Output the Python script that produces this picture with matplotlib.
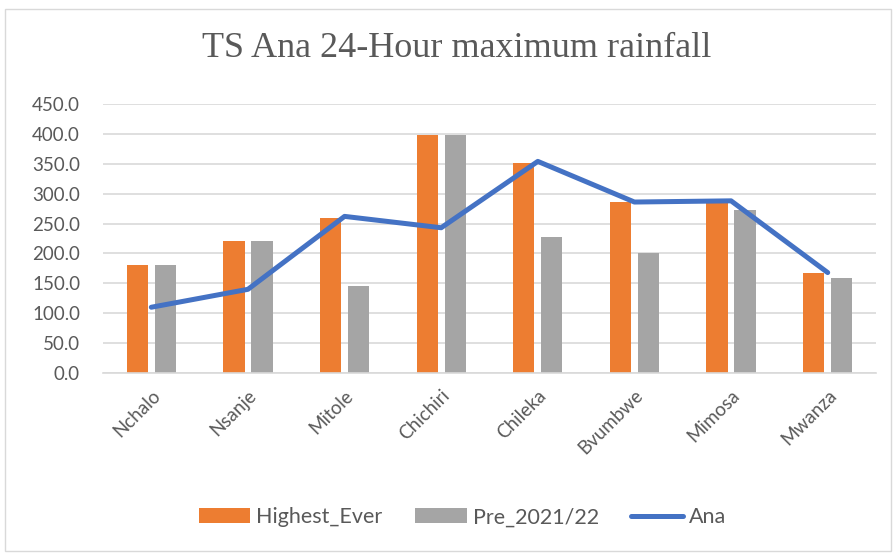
import numpy as np
import matplotlib.pyplot as plt
from matplotlib.patches import Rectangle

stations = ['Nchalo', 'Nsanje', 'Mitole', 'Chichiri', 'Chileka', 'Bvumbwe', 'Mimosa', 'Mwanza']
highest_ever = [180, 220, 260, 398, 352, 286, 284, 168]
pre_2021_22 = [180, 220, 145, 398, 227, 201, 273, 159]
ana = [110, 140, 262, 243, 354, 286, 288, 168]

txt = '#595959'
plt.rcParams['font.family'] = ['Lato', 'DejaVu Sans']

fig = plt.figure(figsize=(8.96, 5.55), dpi=100)
fig.patches.append(Rectangle((0.006, 0.008), 0.988, 0.975, transform=fig.transFigure,
                             fill=False, edgecolor='#d9d9d9', linewidth=1))
ax = fig.add_axes([103 / 896, 1 - 373 / 555, 773 / 896, 269 / 555])

x = np.arange(len(stations))
w = 0.22
b1 = ax.bar(x - 0.145, highest_ever, w, color='#ED7D31', label='Highest_Ever', zorder=2)
b2 = ax.bar(x + 0.145, pre_2021_22, w, color='#A5A5A5', label='Pre_2021/22', zorder=2)
l1, = ax.plot(x, ana, color='#4472C4', linewidth=3.6, solid_capstyle='round',
              solid_joinstyle='round', label='Ana', zorder=3)

ax.set_xlim(-0.5, len(stations) - 0.5)
ax.set_ylim(0, 450)
ax.set_yticks(np.arange(0, 451, 50))
ax.set_yticklabels([f'{v:.1f}' for v in np.arange(0, 451, 50)])
ax.set_xticks(x)
ax.set_xticklabels(stations, rotation=45, ha='right', rotation_mode='anchor')
ax.yaxis.grid(True, color='#d9d9d9', linewidth=1.2, zorder=0)
for s in ['top', 'right', 'left']:
    ax.spines[s].set_visible(False)
ax.spines['bottom'].set_color('#d9d9d9')
ax.spines['bottom'].set_linewidth(1.2)
ax.tick_params(axis='both', length=0, colors=txt, labelsize=13.5)
ax.tick_params(axis='y', pad=16.5)
ax.tick_params(axis='x', pad=10)

fig.text(0.51, 0.913, 'TS Ana 24-Hour maximum rainfall', ha='center', va='center',
         fontsize=26, color=txt, family=['Liberation Serif', 'DejaVu Serif'])

fig.legend([b1, b2, l1], ['Highest_Ever', 'Pre_2021/22', 'Ana'],
           loc='center', bbox_to_anchor=(0.516, 0.068), ncol=3, frameon=False,
           fontsize=15.5, labelcolor=txt, handlelength=2.4, handletextpad=0.28,
           columnspacing=1.5)

fig.savefig('out.png', dpi=100)
